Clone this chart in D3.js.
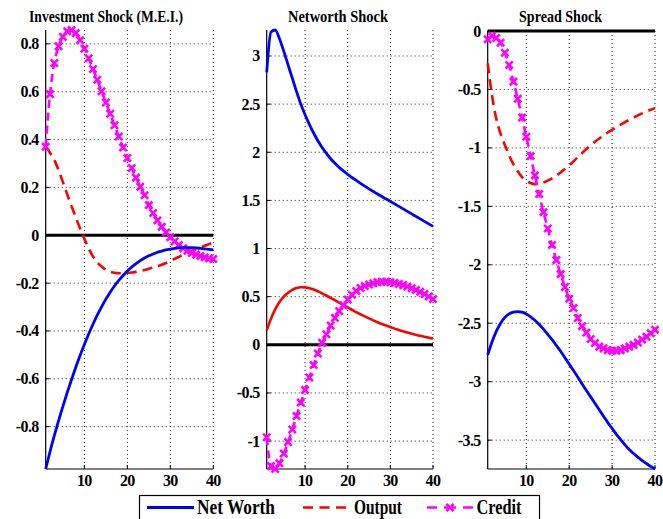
<!DOCTYPE html>
<html>
<head>
<meta charset="utf-8">
<script src="https://cdn.jsdelivr.net/npm/d3@7"></script>
<style>
  body { margin: 0; background: #fff; }
</style>
</head>
<body>
<svg id="chart" width="663" height="519" font-family="'Liberation Serif', 'Times New Roman', Times, 'DejaVu Serif', serif" font-weight="bold"></svg>
<script>
// impulse responses, periods 1..40
const periods = [1,2,3,4,5,6,7,8,9,10,11,12,13,14,15,16,17,18,19,20,21,22,23,24,25,26,27,28,29,30,31,32,33,34,35,36,37,38,39,40];

// Investment Shock (M.E.I.)
const invNetWorth = [-0.977,-0.905,-0.838,-0.775,-0.715,-0.658,-0.604,-0.552,-0.503,-0.457,-0.413,-0.372,-0.334,-0.299,-0.267,-0.238,-0.212,-0.189,-0.168,-0.149,-0.133,-0.119,-0.106,-0.095,-0.086,-0.078,-0.071,-0.066,-0.061,-0.058,-0.055,-0.053,-0.052,-0.052,-0.052,-0.053,-0.055,-0.057,-0.059,-0.061];
const invOutput = [0.37,0.345,0.315,0.272,0.222,0.172,0.122,0.075,0.028,-0.015,-0.055,-0.088,-0.113,-0.131,-0.144,-0.152,-0.157,-0.159,-0.159,-0.158,-0.156,-0.153,-0.149,-0.145,-0.140,-0.135,-0.129,-0.123,-0.116,-0.108,-0.099,-0.090,-0.081,-0.073,-0.065,-0.058,-0.051,-0.044,-0.037,-0.031];
const invCredit = [0.37,0.59,0.72,0.79,0.83,0.853,0.858,0.845,0.815,0.78,0.74,0.695,0.65,0.602,0.555,0.508,0.46,0.413,0.367,0.323,0.281,0.241,0.203,0.167,0.126,0.093,0.062,0.035,0.012,-0.008,-0.026,-0.041,-0.054,-0.065,-0.074,-0.081,-0.087,-0.092,-0.096,-0.099];

// Networth Shock
const nwNetWorth = [2.83,3.25,3.27,3.18,3.05,2.91,2.77,2.63,2.5,2.39,2.29,2.2,2.12,2.05,1.988,1.933,1.885,1.843,1.806,1.77,1.738,1.707,1.677,1.648,1.62,1.593,1.566,1.54,1.515,1.49,1.464,1.438,1.412,1.386,1.36,1.334,1.308,1.282,1.256,1.23];
const nwOutput = [0.15,0.27,0.37,0.445,0.50,0.54,0.57,0.59,0.598,0.597,0.588,0.574,0.556,0.535,0.512,0.488,0.463,0.438,0.413,0.388,0.364,0.34,0.317,0.295,0.274,0.254,0.235,0.217,0.2,0.184,0.168,0.154,0.14,0.127,0.115,0.104,0.093,0.083,0.074,0.065];
const nwCredit = [-0.96,-1.26,-1.29,-1.23,-1.13,-1.01,-0.88,-0.74,-0.60,-0.47,-0.34,-0.21,-0.09,0.02,0.11,0.2,0.28,0.35,0.41,0.47,0.52,0.56,0.59,0.61,0.627,0.64,0.65,0.655,0.655,0.65,0.642,0.632,0.62,0.605,0.588,0.57,0.55,0.528,0.502,0.475];

// Spread Shock
const spNetWorth = [-2.77,-2.66,-2.57,-2.50,-2.45,-2.42,-2.405,-2.40,-2.405,-2.42,-2.445,-2.475,-2.51,-2.55,-2.595,-2.64,-2.69,-2.74,-2.795,-2.85,-2.905,-2.96,-3.02,-3.075,-3.13,-3.185,-3.24,-3.295,-3.35,-3.40,-3.45,-3.495,-3.54,-3.58,-3.615,-3.645,-3.675,-3.70,-3.725,-3.747];
const spOutput = [-0.276,-0.55,-0.75,-0.88,-0.975,-1.065,-1.14,-1.2,-1.25,-1.28,-1.3,-1.31,-1.307,-1.296,-1.28,-1.26,-1.237,-1.21,-1.18,-1.15,-1.115,-1.08,-1.045,-1.01,-0.978,-0.948,-0.92,-0.893,-0.868,-0.845,-0.822,-0.8,-0.779,-0.759,-0.74,-0.722,-0.705,-0.689,-0.674,-0.66];
const spCredit = [-0.071,-0.04,-0.06,-0.1,-0.186,-0.29,-0.433,-0.58,-0.74,-0.905,-1.07,-1.235,-1.395,-1.55,-1.69,-1.83,-1.96,-2.08,-2.19,-2.29,-2.37,-2.455,-2.525,-2.58,-2.635,-2.67,-2.70,-2.715,-2.73,-2.735,-2.735,-2.73,-2.715,-2.70,-2.685,-2.665,-2.64,-2.615,-2.585,-2.555];

const titles = ["Investment Shock (M.E.I.)", "Networth Shock", "Spread Shock"];
const xTicks = [10, 20, 30, 40];
const invYTicks = [-0.8,-0.6,-0.4,-0.2,0,0.2,0.4,0.6,0.8];
const nwYTicks = [-1,-0.5,0,0.5,1,1.5,2,2.5,3];
const spYTicks = [-3.5,-3,-2.5,-2,-1.5,-1,-0.5,0];
const legendLabels = ["Net Worth", "Output", "Credit"];

const svg = d3.select('#chart');

const panels = [
	{title: titles[0], nw: invNetWorth, out: invOutput, cr: invCredit, yTicks: invYTicks, left: 45.7, right: 213.3, top: 30, titleX: 106, titleW: 154, outDash: true},
	{title: titles[1], nw: nwNetWorth, out: nwOutput, cr: nwCredit, yTicks: nwYTicks, left: 266.7, right: 433, top: 30, titleX: 338, titleW: 100, outDash: false},
	{title: titles[2], nw: spNetWorth, out: spOutput, cr: spCredit, yTicks: spYTicks, left: 487.7, right: 655, top: 31, titleX: 560.5, titleW: 83, outDash: true}
];
const bottom = 469;

const xMark = 'M-3.6,-3.6L3.6,3.6M-3.6,3.6L3.6,-3.6';

panels.forEach(p => {
	let x = d3.scaleLinear().domain([1, 40]).range([p.left, p.right]);
	let all = p.nw.concat(p.out, p.cr, [0]);
	let y = d3.scaleLinear().domain(d3.extent(all)).range([bottom, p.top]);
	let g = svg.append('g');

	//grid
	g.selectAll('line.vgrid')
		.data(xTicks)
		.join('line')
		.attr('x1', d => x(d)).attr('x2', d => x(d))
		.attr('y1', p.top).attr('y2', bottom)
		.style('stroke', '#222').style('stroke-width', 1)
		.style('stroke-dasharray', '1,3');
	g.selectAll('line.hgrid')
		.data(p.yTicks)
		.join('line')
		.attr('x1', p.left).attr('x2', p.right)
		.attr('y1', d => y(d)).attr('y2', d => y(d))
		.style('stroke', '#222').style('stroke-width', 1)
		.style('stroke-dasharray', '1,3');

	//axes
	g.append('line')
		.attr('x1', p.left).attr('x2', p.left)
		.attr('y1', p.top).attr('y2', bottom)
		.style('stroke', '#000').style('stroke-width', 1.2);
	g.append('line')
		.attr('x1', p.left).attr('x2', p.right)
		.attr('y1', bottom).attr('y2', bottom)
		.style('stroke', '#000').style('stroke-width', 1.2);
	g.selectAll('line.ytick')
		.data(p.yTicks)
		.join('line')
		.attr('x1', p.left).attr('x2', p.left + 4)
		.attr('y1', d => y(d)).attr('y2', d => y(d))
		.style('stroke', '#000');
	g.selectAll('line.xtick')
		.data(xTicks)
		.join('line')
		.attr('x1', d => x(d)).attr('x2', d => x(d))
		.attr('y1', bottom).attr('y2', bottom - 4)
		.style('stroke', '#000');

	g.selectAll('text.ylab')
		.data(p.yTicks)
		.join('text')
		.attr('x', p.left - 7)
		.attr('y', d => y(d) + 5.5)
		.attr('text-anchor', 'end')
		.style('font-size', '16px')
		.style('letter-spacing', '-0.6px')
		.text(d => String(d));
	g.selectAll('text.xlab')
		.data(xTicks)
		.join('text')
		.attr('x', d => x(d))
		.attr('y', 486)
		.attr('text-anchor', 'middle')
		.style('font-size', '16px')
		.style('letter-spacing', '-0.6px')
		.text(d => d);

	g.append('text')
		.attr('x', p.titleX)
		.attr('y', 21.5)
		.attr('text-anchor', 'middle')
		.attr('textLength', p.titleW)
		.attr('lengthAdjust', 'spacingAndGlyphs')
		.style('font-size', '17px')
		.text(p.title);

	//zero line
	g.append('line')
		.attr('x1', x(1)).attr('x2', x(40))
		.attr('y1', y(0)).attr('y2', y(0))
		.style('stroke', '#000').style('stroke-width', 3);

	let line = d3.line()
		.x((d, i) => x(periods[i]))
		.y(d => y(d))
		.curve(d3.curveMonotoneX);

	g.append('path')
		.attr('d', line(p.out))
		.style('fill', 'none').style('stroke', '#ff0000').style('stroke-width', 2.6)
		.style('stroke-dasharray', p.outDash ? '10,6' : null);
	g.append('path')
		.attr('d', line(p.cr))
		.style('fill', 'none').style('stroke', '#ff00ff').style('stroke-width', 2.6)
		.style('stroke-dasharray', '8,5');
	g.selectAll('path.mark')
		.data(p.cr)
		.join('path')
		.attr('transform', (d, i) => 'translate(' + x(periods[i]) + ',' + y(d) + ')')
		.attr('d', xMark)
		.style('fill', 'none').style('stroke', '#ff00ff').style('stroke-width', 2.6);
	g.append('path')
		.attr('d', line(p.nw))
		.style('fill', 'none').style('stroke', '#0000ff').style('stroke-width', 2.8);
});

//legend
let leg = svg.append('g');
leg.append('rect')
	.attr('x', 139.5).attr('y', 495.5)
	.attr('width', 400).attr('height', 40)
	.style('fill', '#fff').style('stroke', '#000').style('stroke-width', 1.2);
let legY = 507.5;
leg.append('line')
	.attr('x1', 147).attr('x2', 194).attr('y1', legY).attr('y2', legY)
	.style('stroke', '#0000ff').style('stroke-width', 2.8);
leg.append('line')
	.attr('x1', 303).attr('x2', 350).attr('y1', legY).attr('y2', legY)
	.style('stroke', '#ff0000').style('stroke-width', 2.6).style('stroke-dasharray', '10,6.5');
leg.append('line')
	.attr('x1', 427).attr('x2', 473).attr('y1', legY).attr('y2', legY)
	.style('stroke', '#ff00ff').style('stroke-width', 2.6).style('stroke-dasharray', '10,7,12,7,10');
leg.append('path')
	.attr('transform', 'translate(450,' + legY + ')')
	.attr('d', xMark)
	.style('fill', 'none').style('stroke', '#ff00ff').style('stroke-width', 2.6);

let legText = [{x: 197, w: 78}, {x: 354, w: 48}, {x: 476.5, w: 45}];
leg.selectAll('text')
	.data(legendLabels)
	.join('text')
	.attr('x', (d, i) => legText[i].x)
	.attr('y', 513.5)
	.attr('textLength', (d, i) => legText[i].w)
	.attr('lengthAdjust', 'spacingAndGlyphs')
	.style('font-size', '20px')
	.text(d => d);
</script>
</body>
</html>
